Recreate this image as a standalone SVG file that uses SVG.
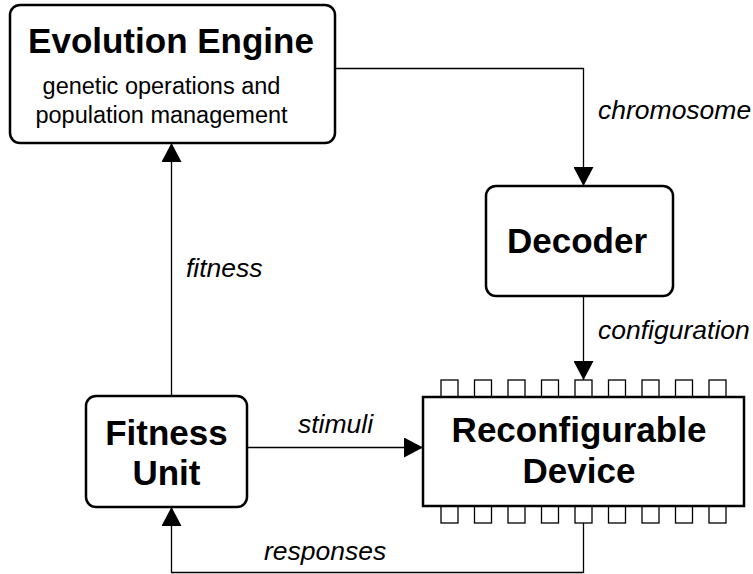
<svg xmlns="http://www.w3.org/2000/svg" width="753" height="574" viewBox="0 0 753 574">
<style>
.box{fill:#fff;stroke:#000;stroke-width:2.5}
.pin{fill:#fff;stroke:#000;stroke-width:1.3}
.t{font-family:"Liberation Sans",Arial,sans-serif;font-weight:bold;font-size:35px;text-anchor:middle;fill:#000}
.s{font-family:"Liberation Sans",Arial,sans-serif;font-size:23.5px;text-anchor:middle;fill:#000}
.l{font-family:"Liberation Sans",Arial,sans-serif;font-style:italic;font-size:26.5px;fill:#000}
.c{fill:none;stroke:#000;stroke-width:1.3}
</style>
<defs>
<marker id="ah" markerUnits="userSpaceOnUse" markerWidth="20" markerHeight="20" viewBox="0 0 19 20" refX="19" refY="10" orient="auto">
<path d="M0,0 L19,10 L0,20 Z" fill="#000"/>
</marker>
</defs>
<g id="connectors">
<path class="c" d="M335,68.5 H583.5 V186" marker-end="url(#ah)"/>
<path class="c" d="M583.5,296 V380" marker-end="url(#ah)"/>
<path class="c" d="M247,447.5 H423" marker-end="url(#ah)"/>
<path class="c" d="M583.5,523 V572.5 H171.5 V507" marker-end="url(#ah)"/>
<path class="c" d="M171.5,396 V143" marker-end="url(#ah)"/>
<text class="l" x="598" y="119">chromosome</text>
<text class="l" x="598" y="339">configuration</text>
<text class="l" x="298" y="433">stimuli</text>
<text class="l" x="264" y="560">responses</text>
<text class="l" x="186" y="277">fitness</text>
</g>
<g id="evolution-engine">
<rect class="box" x="10" y="5" width="325" height="138" rx="10"/>
<text class="t" x="171" y="53">Evolution Engine</text>
<text class="s" x="161.5" y="94">genetic operations and</text>
<text class="s" x="161.5" y="123">population management</text>
</g>
<g id="decoder">
<rect class="box" x="486" y="186" width="187" height="110" rx="10"/>
<text class="t" x="577" y="253">Decoder</text>
</g>
<g id="fitness-unit">
<rect class="box" x="86" y="396" width="161" height="111" rx="10"/>
<text class="t" x="166.5" y="445">Fitness</text>
<text class="t" x="166.5" y="485">Unit</text>
</g>
<g id="reconfigurable-device">
<g class="pin">
<rect x="441" y="380" width="17" height="17"/><rect x="474.5" y="380" width="17" height="17"/><rect x="508" y="380" width="17" height="17"/><rect x="541.5" y="380" width="17" height="17"/><rect x="575" y="380" width="17" height="17"/><rect x="608.5" y="380" width="17" height="17"/><rect x="642" y="380" width="17" height="17"/><rect x="675.5" y="380" width="17" height="17"/><rect x="709" y="380" width="17" height="17"/>
<rect x="441" y="506" width="17" height="17"/><rect x="474.5" y="506" width="17" height="17"/><rect x="508" y="506" width="17" height="17"/><rect x="541.5" y="506" width="17" height="17"/><rect x="575" y="506" width="17" height="17"/><rect x="608.5" y="506" width="17" height="17"/><rect x="642" y="506" width="17" height="17"/><rect x="675.5" y="506" width="17" height="17"/><rect x="709" y="506" width="17" height="17"/>
</g>
<rect class="box" x="423" y="397" width="321" height="109"/>
<text class="t" x="579" y="442">Reconfigurable</text>
<text class="t" x="579" y="483">Device</text>
</g>
</svg>
